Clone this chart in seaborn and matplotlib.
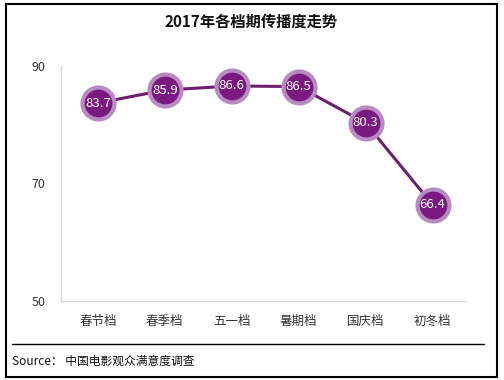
import matplotlib
matplotlib.use("Agg")
import matplotlib.pyplot as plt
import seaborn as sns
import pandas as pd
from matplotlib.lines import Line2D
from matplotlib.patches import Rectangle

# data
periods = ["春节档", "春季档", "五一档", "暑期档", "国庆档", "初冬档"]
scores = [83.7, 85.9, 86.6, 86.5, 80.3, 66.4]
y_ticks = [50, 70, 90]

df = pd.DataFrame({"period": periods, "score": scores})

sns.set_theme(style="white")
plt.rcParams['font.family'] = ['Noto Sans CJK SC', 'DejaVu Sans']

fig = plt.figure(figsize=(5.04, 3.80), dpi=100)
ax = fig.add_axes([61 / 504, 1 - 301 / 380, 405 / 504, 235 / 380])

sns.lineplot(data=df, x="period", y="score", ax=ax, color="#6b1f6e",
             linewidth=2.2, sort=False, marker="o", markersize=23,
             markerfacecolor="#7a1a80", markeredgecolor="#b88cc2",
             markeredgewidth=3)

for i, v in enumerate(scores):
    ax.text(i, v, f"{v:.1f}", color="white", fontsize=9.5,
            ha="center", va="center")

ax.set_xlim(-0.55, 5.5)
ax.set_ylim(50, 90)
ax.set_yticks(y_ticks)
ax.set_xlabel("")
ax.set_ylabel("")
ax.tick_params(axis="both", labelsize=9, colors="#333333", length=0)
ax.tick_params(axis="x", pad=10)
ax.tick_params(axis="y", pad=11)
for s in ["top", "right"]:
    ax.spines[s].set_visible(False)
for s in ["left", "bottom"]:
    ax.spines[s].set_color("#d9d9d9")
    ax.spines[s].set_linewidth(1)

fig.text(251 / 504, 1 - 22 / 380, "2017年各档期传播度走势", ha="center",
         va="center", fontsize=11, fontweight="bold", color="#111111")

fig.add_artist(Line2D([12 / 504, 484 / 504], [1 - 344 / 380, 1 - 344 / 380],
                      color="black", linewidth=1))
fig.text(12 / 504, 1 - 361 / 380, "Source： 中国电影观众满意度调查",
         ha="left", va="center", fontsize=8.5, color="#111111")

fig.add_artist(Rectangle((6 / 504, 3 / 380), 491 / 504, 373 / 380,
                         fill=False, edgecolor="black", linewidth=1.5))

plt.savefig("out.png", dpi=100)
plt.close()
